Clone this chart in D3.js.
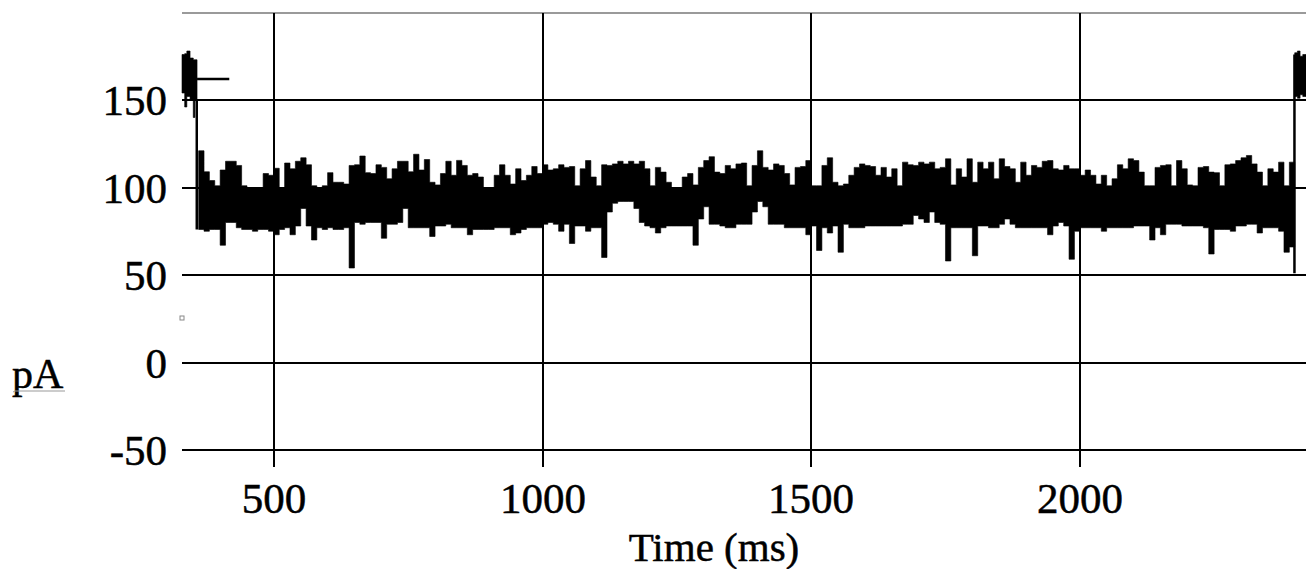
<!DOCTYPE html>
<html><head><meta charset="utf-8">
<script src="https://cdn.jsdelivr.net/npm/d3@7"></script>
<style>html,body{margin:0;padding:0;background:#fff;} svg{display:block;}</style>
</head><body>
<svg id="chart" width="1306" height="569"></svg>
<script>
// ---------- data ----------
const xTicks = [500, 1000, 1500, 2000];
const yTicks = [150, 100, 50, 0, -50];
const xLabel = "Time (ms)";
const yLabel = "pA";
const xDomain = [329, 2421];   // ms
const yDomain = [-50, 200];    // pA

// main (open-state) segment: envelope per 10 ms bin starting at 360 ms
const binStart = 360, binMs = 10;
const hiEnv = [
 121,109,104,101,110,115,115,112.6,101,100,100,100,108,107,111,100,114,110.7,115,117,
 113,101,100,101,108.5,103,103,102,112.6,113,118,108.5,108,
 113,111.5,105,110.7,115,115,109,119,110,116,103,101.5,108,115,107,115.5,112.6,107,108,106,100,100,107,113,107,102,110.7,104,107,112,108,113,110,110.7,113,
 111.5,112,101,110.7,115.4,106,101,113,112.6,113.5,115,113.5,115,113.5,115,110.7,101,111.5,108.8,103,100,100,106,108,101.5,111.5,115.4,117.6,108.8,108,112.6,110.7,113.5,114,101,
 112.6,121,111.5,110,113.5,112.6,108,101.5,111.5,112,115.4,101,101,112.6,117,103,101,102,107,111.5,113.5,112.6,112,107,111.5,106,110.7,101,114.5,113,112.6,114.5,113.5,114.5,110.7,111.5,
 116.4,101.5,110.7,106,116.4,103,114.5,110.7,114.5,105,116.4,112,110.7,103,114.5,107,112.6,111.5,115,115.4,110.7,110,112.6,110.7,110.7,107,110,107,102,107,101,105,113,110.7,116.4,
 115.4,108.8,101,101,111.5,112.6,113,101,115.4,110.7,101.5,101,111.5,112,108.8,108.5,101,113,113.5,115.4,117,118.3,113.5,108.8,101,110.7,108.8,114.5,101,114.5
];
const loEnv = [
 76,75,76,76,67,80,80,77,76,76,75,76,76,75,73,76,77,73,78,88,
 78,70,77,76,77,76,76,77,54,80,79,80,80,
 80,71,79,79,80,88,77,77,77,77,72,78,78,79,77,77,77,73,76,76,76,76,77,77,77,73,74,76,77,77,77,79,80,79,75,
 79,68,78,78,75,77,77,60,86,91,92,92,92,88,80,78,77,74,77,78,78,78,78,78,67,82,89,79,79,78,77,77,79,79,79,
 86,92,89,79,79,79,77,77,77,77,73,78,64,77,74,78,63,79,77,77,77,78,78,78,78,78,78,78,79,79,84,82,80,86,80,79,
 58,77,77,77,77,61,78,78,77,77,79,82,79,77,77,77,77,77,77,73,78,80,78,59,75,77,77,77,77,75,77,77,77,77,77,
 78,78,78,70,77,73,79,79,79,78,78,78,78,77,62,76,76,76,75,78,78,79,79,74,77,77,77,75,63,66
];

// closed-state segments at both ends
const preTimes = [329, 334, 338, 344, 350, 353, 357];
const preHi    = [176, 176.5, 178, 174, 173, 173];
const preLo    = [154, 146, 152, 150, 140, 150];
const postTimes = [2400, 2405, 2410, 2415, 2421];
const postHi    = [177, 178, 175, 176];
const postLo    = [152, 151, 153, 152];

// fast transitions [time, from pA, to pA]
const transitions = [[356.5, 150, 76], [2399.5, 51, 176]];
// short level marker [t0, t1, pA]
const marker = [357, 417, 162];

// ---------- drawing ----------
const svg = d3.select("#chart");
const x = d3.scaleLinear().domain(xDomain).range([182, 1306]);
const y = d3.scaleLinear().domain(yDomain).range([450, 12.5]);
const serif = "'Liberation Serif','Times New Roman',Times,serif";
const R = v => Math.round(v);

// top frame line
svg.append("line").attr("x1", x(xDomain[0])).attr("x2", x(xDomain[1]))
  .attr("y1", R(y(yDomain[1]))).attr("y2", R(y(yDomain[1])))
  .attr("stroke", "#9a9a9a").attr("stroke-width", 2);

// horizontal grid
svg.append("g").selectAll("line").data(yTicks).join("line")
  .attr("x1", x(xDomain[0])).attr("x2", x(xDomain[1]))
  .attr("y1", d => R(y(d))).attr("y2", d => R(y(d)))
  .attr("stroke", "#000").attr("stroke-width", 2);

// vertical grid + ticks
svg.append("g").selectAll("line").data(xTicks).join("line")
  .attr("x1", d => R(x(d))).attr("x2", d => R(x(d)))
  .attr("y1", R(y(yDomain[1]))).attr("y2", R(y(yDomain[0])) + 17)
  .attr("stroke", "#000").attr("stroke-width", 2);

// trace helpers: stepped envelope per bin
function bandPath(times, his, los) {
  const pts = his.map((h, i) => ({t0: times[i], h, l: los[i]}));
  pts.push({t0: times[times.length - 1], h: his[his.length - 1], l: los[los.length - 1]});
  return d3.area().curve(d3.curveStepAfter)
    .x(d => x(d.t0)).y0(d => y(d.l)).y1(d => y(d.h))(pts);
}
const mainTimes = d3.range(hiEnv.length + 1).map(i => binStart + i * binMs);
const tr = svg.append("g");
[[mainTimes, hiEnv, loEnv], [preTimes, preHi, preLo], [postTimes, postHi, postLo]].forEach(s => {
  tr.append("path").attr("d", bandPath(s[0], s[1], s[2])).attr("fill", "#000")
    .attr("stroke", "#000").attr("stroke-width", 0.6);
});
tr.selectAll("line.tr").data(transitions).join("line").attr("class", "tr")
  .attr("x1", d => x(d[0])).attr("x2", d => x(d[0]))
  .attr("y1", d => y(d[1])).attr("y2", d => y(d[2]))
  .attr("stroke", "#000").attr("stroke-width", 2.5);
tr.append("line")
  .attr("x1", x(marker[0])).attr("x2", x(marker[1]))
  .attr("y1", R(y(marker[2]))).attr("y2", R(y(marker[2])))
  .attr("stroke", "#000").attr("stroke-width", 2.5);

// tick labels
const txt = sel => sel.attr("font-family", serif).attr("fill", "#000")
  .attr("stroke", "#000").attr("stroke-width", 0.5);
svg.append("g").selectAll("text").data(yTicks).join("text")
  .attr("x", 167).attr("y", d => R(y(d)) + 15)
  .attr("text-anchor", "end").attr("font-size", 43).call(txt)
  .text(d => d);
svg.append("g").selectAll("text").data(xTicks).join("text")
  .attr("x", d => R(x(d))).attr("y", 513)
  .attr("text-anchor", "middle").attr("font-size", 43).call(txt)
  .text(d => d);

// axis titles
svg.append("text").attr("x", 714).attr("y", 561).attr("text-anchor", "middle")
  .attr("font-size", 41).call(txt).text(xLabel);
svg.append("text").attr("x", 12).attr("y", 388)
  .attr("font-size", 42).call(txt).text(yLabel);

// spell-check squiggle under pA and small square artifact
let sq = "M13,392";
for (let i = 13; i < 64; i += 2) sq += " L" + (i + 2) + "," + (392 + ((i / 2) % 2 ? -1 : 1));
svg.append("path").attr("d", sq).attr("fill", "none").attr("stroke", "#999").attr("stroke-width", 1);
svg.append("rect").attr("x", 180).attr("y", 316).attr("width", 4).attr("height", 4)
  .attr("fill", "#fff").attr("stroke", "#888").attr("stroke-width", 1);
</script>
</body></html>
